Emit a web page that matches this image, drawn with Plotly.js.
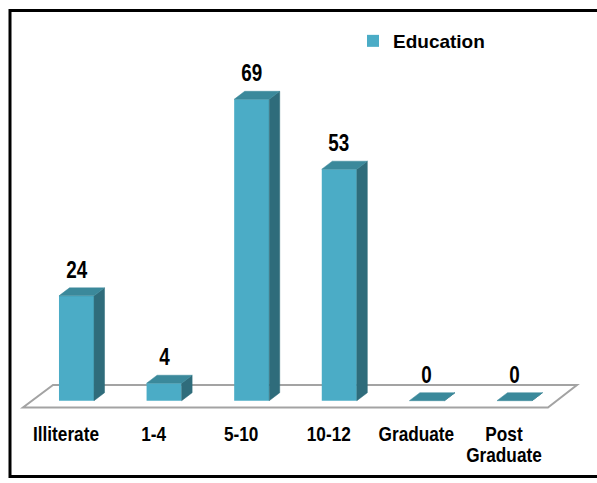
<!DOCTYPE html>
<html><head><meta charset="utf-8">
<script src="https://cdn.plot.ly/plotly-3.0.1.min.js"></script>
<style>html,body{margin:0;padding:0;background:#fff;}</style>
</head><body>
<div id="chart" style="width:597px;height:483px;"></div>
<script>
// ---- data ----
const categories = ['Illiterate', '1-4', '5-10', '10-12', 'Graduate', 'Post<br>Graduate'];
const values = [24, 4, 69, 53, 0, 0];
const seriesName = 'Education';

// ---- geometry / style constants ----
const W = 597, H = 483;
const X0 = 76.5, SX = 87.6;     // pixel of first category centre, pixels per category
const Y0 = 400.7, SY = 4.368;   // pixel of value 0, pixels per unit
const barW = 0.4, dX = 0.12, dY = 1.83;  // bar width, 3-D depth offsets (axis units)
const labelOff = -0.12;
const CONDENSE = 0.82;          // narrow-font look
const FRONT = '#4BACC6', SIDE = '#2F6C7B', TOP = '#3B899B';
const SANS = '"Liberation Sans", Arial, sans-serif';

const idx = categories.map((c, i) => i);
const traces = [];
traces.push({
  type: 'bar', x: idx, y: values, width: barW, name: seriesName,
  marker: {color: FRONT, line: {width: 0}}, hoverinfo: 'skip', showlegend: true
});
idx.forEach(i => {
  const v = values[i];
  const r = i + barW / 2, l = i - barW / 2;
  traces.push({
    type: 'scatter', mode: 'lines', fill: 'toself', fillcolor: SIDE,
    x: [r, r + dX, r + dX, r, r], y: [0, dY, v + dY, v, 0],
    line: {color: SIDE, width: 0.5}, hoverinfo: 'skip', showlegend: false
  });
  traces.push({
    type: 'scatter', mode: 'lines', fill: 'toself', fillcolor: TOP,
    x: [l, r, r + dX, l + dX, l], y: [v, v, v + dY, v + dY, v],
    line: {color: TOP, width: 0.5}, hoverinfo: 'skip', showlegend: false
  });
});

// floor (in axis units)
const fl = {xL: -0.611, xR: 5.382, xBL: -0.268, xBR: 5.713, yF: -1.56, yB: 3.6};
const floorPath = `M${fl.xL},${fl.yF} L${fl.xR},${fl.yF} L${fl.xBR},${fl.yB} L${fl.xBL},${fl.yB} Z`;

const annotations = idx.map(i => ({
  x: i, y: values[i] + dY, xref: 'x', yref: 'y', yanchor: 'bottom', yshift: 3,
  text: String(values[i]), showarrow: false,
  font: {family: SANS, size: 23, color: '#000', weight: 'bold'}
}));

const layout = {
  width: W, height: H, margin: {l: 0, r: 0, t: 0, b: 0},
  paper_bgcolor: '#fff', plot_bgcolor: 'rgba(0,0,0,0)',
  xaxis: {
    range: [-X0 / SX, (W - X0) / SX], fixedrange: true,
    tickvals: idx.map(i => i + labelOff), ticktext: categories, tickangle: 0,
    showgrid: false, zeroline: false, showline: false, ticks: '',
    anchor: 'free', position: 1 - 419 / H,
    tickfont: {family: SANS, size: 21, color: '#000', weight: 'bold'}
  },
  yaxis: {
    range: [-(H - Y0) / SY, Y0 / SY], fixedrange: true, visible: false,
    showgrid: false, zeroline: false
  },
  showlegend: true,
  legend: {
    x: 353 / W, xanchor: 'left', y: 1 - 22 / H, yanchor: 'top',
    bgcolor: 'rgba(0,0,0,0)', borderwidth: 0,
    font: {family: SANS, size: 19, color: '#000', weight: 'bold'}
  },
  shapes: [
    {type: 'path', xref: 'x', yref: 'y', path: floorPath, layer: 'below',
     fillcolor: '#fff', line: {color: '#A3A3A3', width: 2}},
    {type: 'rect', xref: 'paper', yref: 'paper', x0: 10 / W, x1: 1.02,
     y0: 1 - 476.5 / H, y1: 1 - 10.5 / H, line: {color: '#000', width: 3}, layer: 'below'}
  ],
  annotations: annotations
};

Plotly.newPlot('chart', traces, layout, {displayModeBar: false, staticPlot: true}).then(gd => {
  const condense = el => {
    const bb = el.getBBox();
    const cx = bb.x + bb.width / 2;
    const t = el.getAttribute('transform') || '';
    el.setAttribute('transform', `${t} translate(${cx},0) scale(${CONDENSE},1) translate(${-cx},0)`);
  };
  gd.querySelectorAll('.xtick text').forEach(el => {
    el.querySelectorAll('tspan.line').forEach((ts, j) => { if (j > 0) ts.setAttribute('dy', '1.0em'); });
    condense(el);
  });
  gd.querySelectorAll('.annotation-text').forEach(condense);
});
</script>
</body></html>
